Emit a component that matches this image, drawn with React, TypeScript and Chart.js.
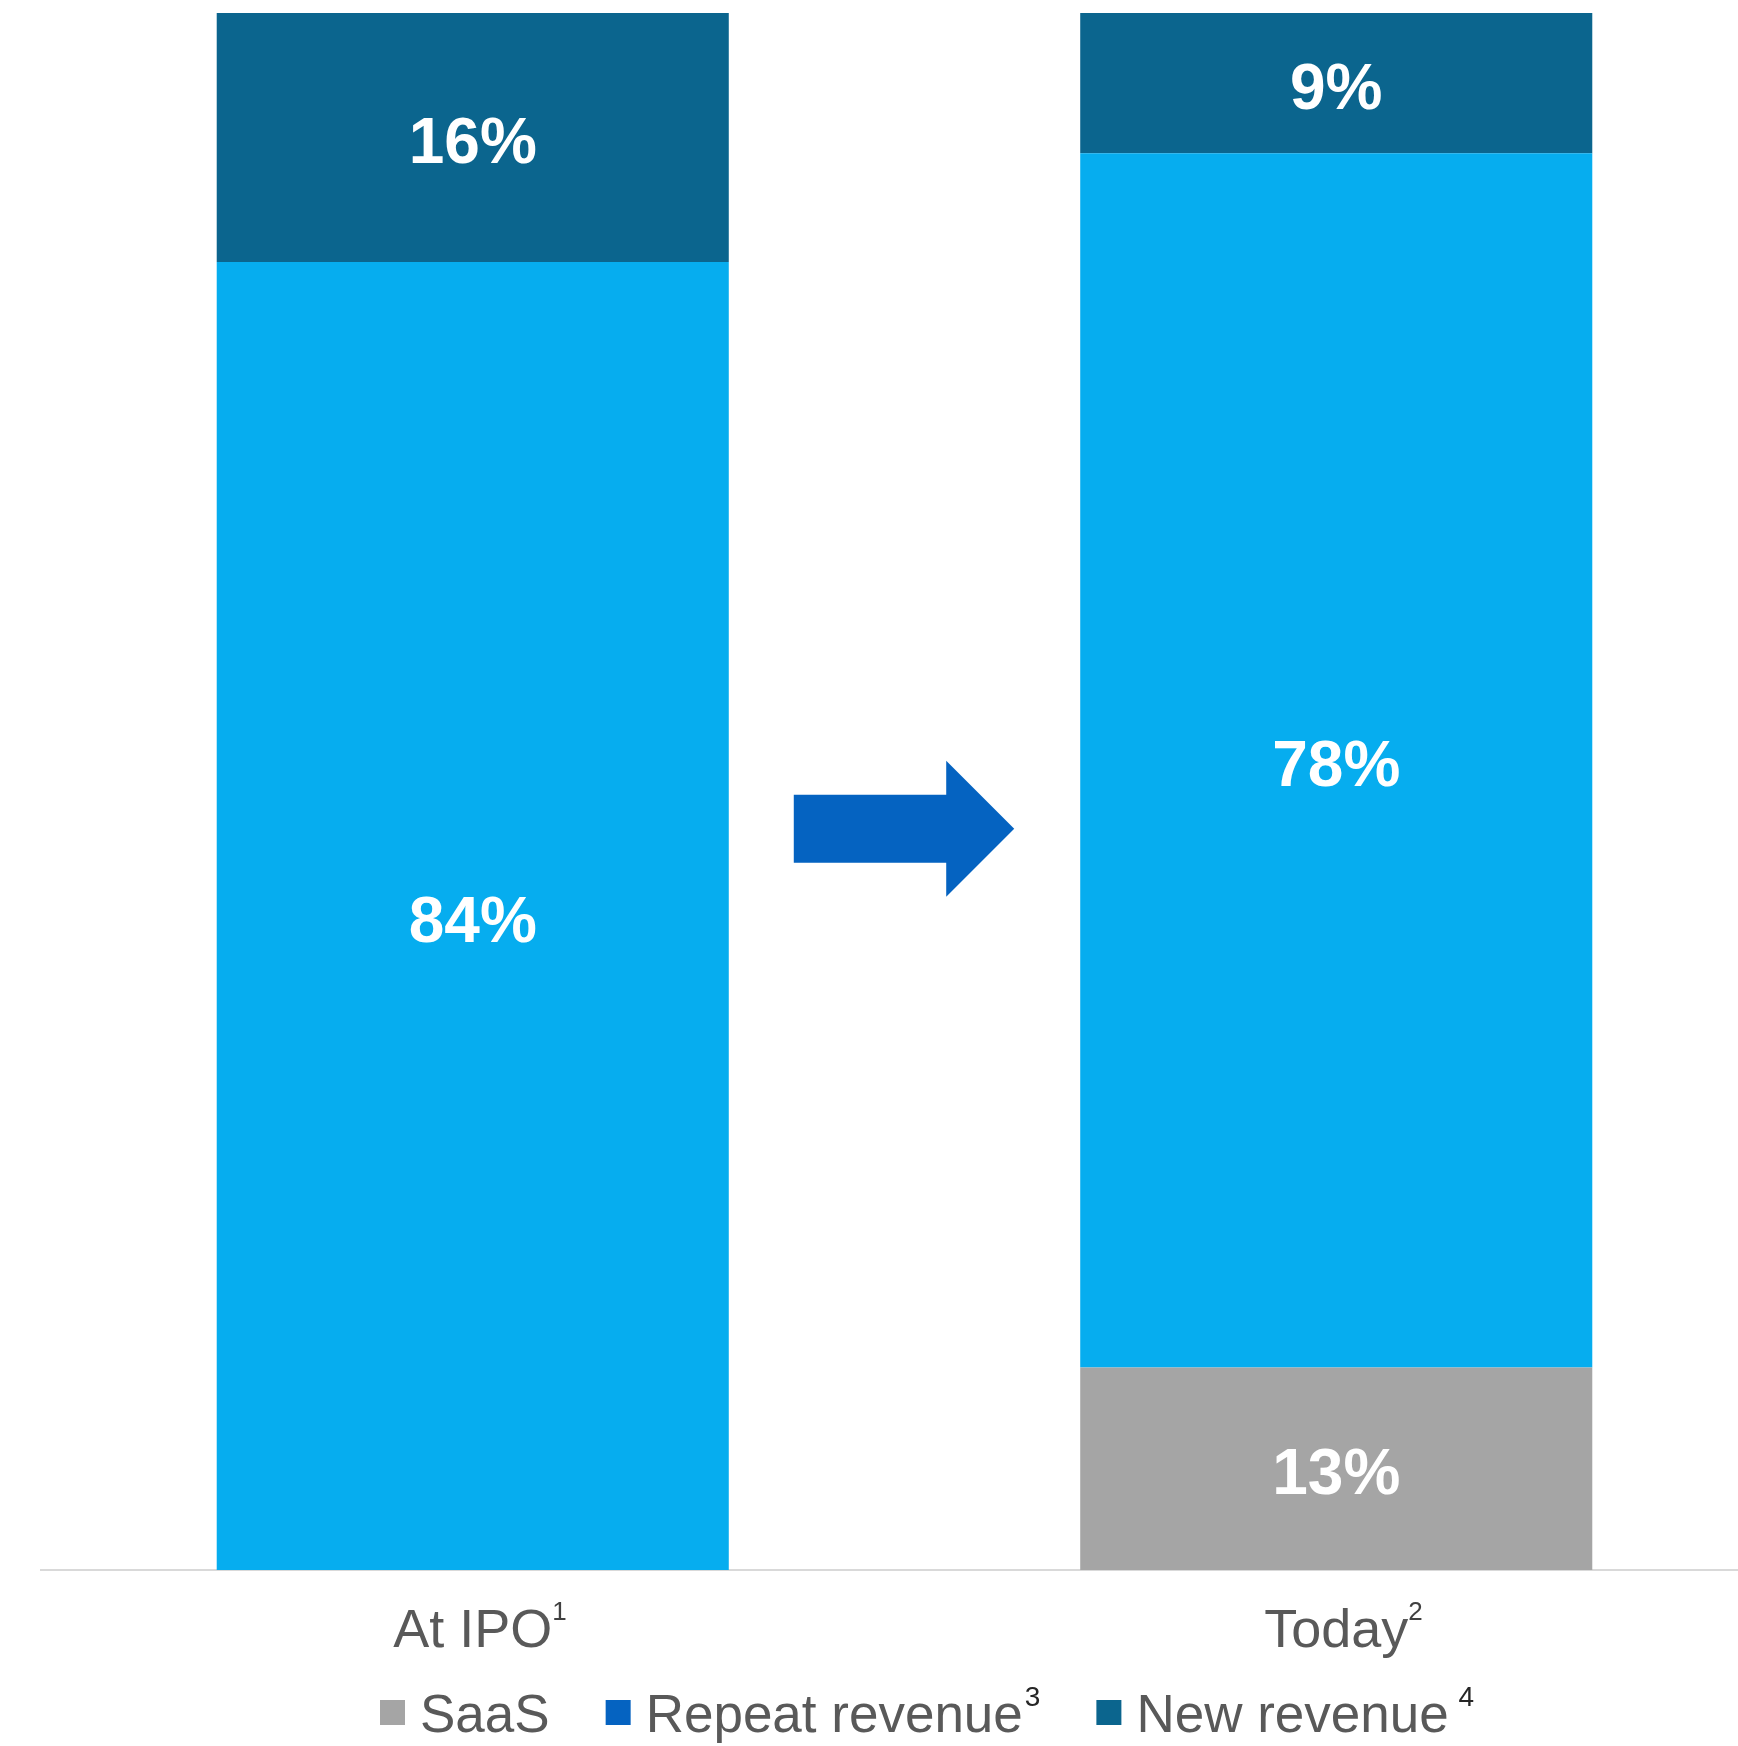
import React, { useEffect, useRef } from "react";
import { Chart, registerables } from "chart.js";
Chart.register(...registerables);

const categories = ["At IPO", "Today"];
const categorySup = ["1", "2"];
const seriesNames = ["SaaS", "Repeat revenue", "New revenue"];
const legendSup = ["", "3", " 4"];
const saas = [0, 13];
const repeatRevenue = [84, 78];
const newRevenue = [16, 9];

const barColors = ["#A5A5A5", "#06ADEF", "#0B658E"];
const legendColors = ["#A5A5A5", "#0563C1", "#0B658E"];
const arrowColor = "#0563C1";
const FONT = "'Liberation Sans', Arial, sans-serif";
const TEXT_GREY = "#595959";

const CANVAS_W = 1768;
const CANVAS_H = 1746;
const TICK_SIZE = 54;
const TICK_PAD = 30;

const dataLabelPlugin = {
  id: "dataLabels",
  afterDatasetsDraw(chart: any) {
    const ctx = chart.ctx;
    ctx.save();
    ctx.font = `bold 64px ${FONT}`;
    ctx.fillStyle = "#FFFFFF";
    ctx.textAlign = "center";
    ctx.textBaseline = "middle";
    chart.data.datasets.forEach((ds: any, i: number) => {
      const meta = chart.getDatasetMeta(i);
      meta.data.forEach((el: any, j: number) => {
        const v = ds.data[j];
        if (!v) return;
        const { x, y, base } = el.getProps(["x", "y", "base"], true);
        ctx.fillText(`${v}%`, x, (y + base) / 2 + 8);
      });
    });
    ctx.restore();
  },
};

const arrowPlugin = {
  id: "arrow",
  afterDatasetsDraw(chart: any) {
    const meta = chart.getDatasetMeta(1);
    const a = meta.data[0];
    const b = meta.data[1];
    if (!a || !b) return;
    const left = a.x + a.width / 2 + 65;
    const right = b.x - b.width / 2 - 66;
    const cy = chart.scales.y.getPixelForValue(47.6);
    const bodyH = 34;
    const headH = 68;
    const headL = 68;
    const ctx = chart.ctx;
    ctx.save();
    ctx.fillStyle = arrowColor;
    ctx.beginPath();
    ctx.moveTo(left, cy - bodyH);
    ctx.lineTo(right - headL, cy - bodyH);
    ctx.lineTo(right - headL, cy - headH);
    ctx.lineTo(right, cy);
    ctx.lineTo(right - headL, cy + headH);
    ctx.lineTo(right - headL, cy + bodyH);
    ctx.lineTo(left, cy + bodyH);
    ctx.closePath();
    ctx.fill();
    ctx.restore();
  },
};

const categorySupPlugin = {
  id: "categorySup",
  afterDraw(chart: any) {
    const xs = chart.scales.x;
    const ctx = chart.ctx;
    ctx.save();
    const mid = xs.top + TICK_PAD + (TICK_SIZE * 1.2) / 2;
    const baseline = mid + TICK_SIZE * 0.33;
    categories.forEach((c, i) => {
      ctx.font = `${TICK_SIZE}px ${FONT}`;
      const w = ctx.measureText(c).width;
      const px = xs.getPixelForValue(i);
      ctx.font = `26px ${FONT}`;
      ctx.fillStyle = "#404040";
      ctx.textAlign = "left";
      ctx.textBaseline = "alphabetic";
      ctx.fillText(categorySup[i], px + w / 2 + 0, baseline - 30);
    });
    ctx.restore();
  },
};

const legendPlugin = {
  id: "customLegend",
  afterDraw(chart: any) {
    const ctx = chart.ctx;
    ctx.save();
    let x = 380;
    const baseline = 1732;
    const box = 25;
    chart.data.datasets.forEach((ds: any, i: number) => {
      ctx.fillStyle = legendColors[i];
      ctx.fillRect(x, 1700, box, box);
      x += box + 15;
      ctx.font = `53px ${FONT}`;
      ctx.fillStyle = TEXT_GREY;
      ctx.textAlign = "left";
      ctx.textBaseline = "alphabetic";
      ctx.fillText(ds.label, x, baseline);
      x += ctx.measureText(ds.label).width;
      if (legendSup[i]) {
        ctx.font = `28px ${FONT}`;
        ctx.fillStyle = "#262626";
        ctx.fillText(legendSup[i], x + 2, baseline - 26);
        x += 2 + ctx.measureText(legendSup[i]).width;
      }
      x += 56;
    });
    ctx.restore();
  },
};

export default function App() {
  const ref = useRef<HTMLCanvasElement>(null);
  useEffect(() => {
    if (!ref.current) return;
    const chart = new Chart(ref.current, {
      type: "bar",
      data: {
        labels: categories,
        datasets: [
          { label: seriesNames[0], data: saas, backgroundColor: barColors[0] },
          { label: seriesNames[1], data: repeatRevenue, backgroundColor: barColors[1] },
          { label: seriesNames[2], data: newRevenue, backgroundColor: barColors[2] },
        ],
      },
      options: {
        responsive: false,
        animation: false,
        devicePixelRatio: 1,
        layout: { padding: { top: 13, left: 41, right: 0, bottom: 0 } },
        datasets: { bar: { barPercentage: 1, categoryPercentage: 0.593, borderWidth: 0 } },
        plugins: { legend: { display: false }, tooltip: { enabled: false }, title: { display: false } },
        scales: {
          x: {
            stacked: true,
            grid: { display: false, drawTicks: false, tickLength: 0 },
            border: { display: true, color: "#D9D9D9", width: 2 },
            ticks: {
              padding: TICK_PAD,
              color: TEXT_GREY,
              font: { family: FONT, size: TICK_SIZE },
              maxRotation: 0,
              autoSkip: false,
            },
            afterFit: (s: any) => {
              s.height = 176;
            },
          },
          y: {
            stacked: true,
            display: false,
            min: 0,
            max: 100,
          },
        },
      },
      plugins: [dataLabelPlugin, arrowPlugin, categorySupPlugin, legendPlugin],
    });
    return () => chart.destroy();
  }, []);
  return (
    <div
      style={{
        position: "fixed",
        left: 0,
        top: 0,
        width: 1738,
        height: 1746,
        overflow: "hidden",
        background: "#FFFFFF",
      }}
    >
      <canvas ref={ref} width={CANVAS_W} height={CANVAS_H} style={{ display: "block" }} />
    </div>
  );
}
